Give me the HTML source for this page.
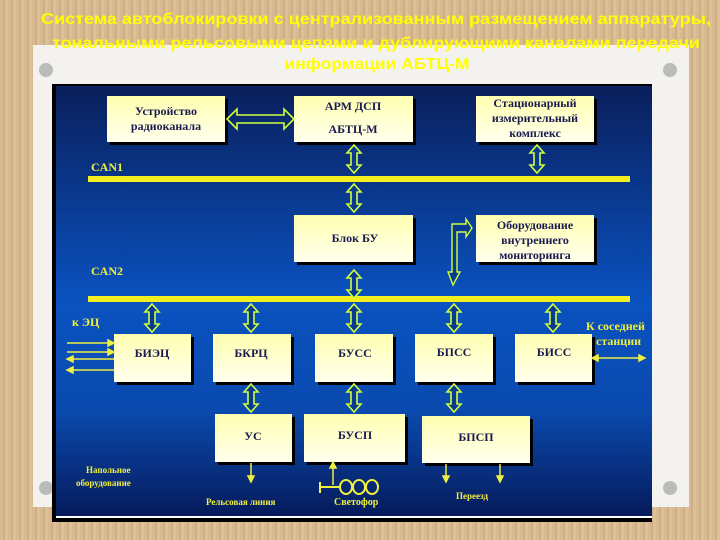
<!DOCTYPE html>
<html><head><meta charset="utf-8"><style>
html,body{margin:0;padding:0}
body{width:720px;height:540px;overflow:hidden;background:repeating-linear-gradient(90deg,#d9b98f 0 3px,#cfae84 3px 5px,#dcc09a 5px 8px);}
svg{display:block}
</style></head><body>
<svg width="720" height="540" viewBox="0 0 720 540" xmlns="http://www.w3.org/2000/svg" font-family="Liberation Serif, serif">
<defs>
<linearGradient id="bg" x1="0" y1="0" x2="0" y2="1">
<stop offset="0" stop-color="#0a1f5c"/>
<stop offset="0.5" stop-color="#0a52c0"/>
<stop offset="0.75" stop-color="#0a4aae"/>
<stop offset="1" stop-color="#061a5a"/>
</linearGradient>
<linearGradient id="bx" x1="0" y1="0" x2="0" y2="1">
<stop offset="0" stop-color="#ffffb0"/>
<stop offset="1" stop-color="#ffffee"/>
</linearGradient>
<g id="va"><path d="M0,-14 L7,-6 L3,-6 L3,6 L7,6 L0,14 L-7,6 L-3,6 L-3,-6 L-7,-6 Z" fill="#0a3a90" stroke="#d0ff40" stroke-width="1.6"/></g>
</defs>
<rect x="33" y="45" width="656" height="462" fill="#f4f2ee"/>
<circle cx="46" cy="70" r="7" fill="#bbb"/><circle cx="670" cy="70" r="7" fill="#bbb"/>
<circle cx="46" cy="488" r="7" fill="#bbb"/><circle cx="670" cy="488" r="7" fill="#bbb"/>
<rect x="52" y="84" width="600" height="438" fill="#000"/>
<rect x="56" y="86" width="596" height="432" fill="url(#bg)"/>
<rect x="56" y="516" width="596" height="2" fill="#fff"/>
<g font-family="Liberation Sans, sans-serif" font-size="16" font-weight="bold" fill="#ffff00" text-anchor="middle">
<text x="376" y="24" textLength="670" lengthAdjust="spacingAndGlyphs">Система автоблокировки с централизованным размещением аппаратуры,</text>
<text x="376" y="48" textLength="648" lengthAdjust="spacingAndGlyphs">тональными рельсовыми цепями и дублирующими каналами передачи</text>
<text x="377" y="69" textLength="185" lengthAdjust="spacingAndGlyphs">информации АБТЦ-М</text>
</g>
<g fill="#000">
<rect x="110" y="99" width="118" height="46"/><rect x="297" y="99" width="119" height="46"/><rect x="479" y="99" width="118" height="46"/>
<rect x="297" y="218" width="119" height="47"/><rect x="479" y="218" width="118" height="47"/>
<rect x="117" y="337" width="77" height="48"/><rect x="216" y="337" width="78" height="48"/><rect x="318" y="337" width="78" height="48"/><rect x="418" y="337" width="78" height="48"/><rect x="518" y="337" width="77" height="48"/>
<rect x="218" y="417" width="77" height="48"/><rect x="307" y="417" width="101" height="48"/><rect x="425" y="419" width="108" height="47"/>
</g>
<g fill="url(#bx)">
<rect x="107" y="96" width="118" height="46"/><rect x="294" y="96" width="119" height="46"/><rect x="476" y="96" width="118" height="46"/>
<rect x="294" y="215" width="119" height="47"/><rect x="476" y="215" width="118" height="47"/>
<rect x="114" y="334" width="77" height="48"/><rect x="213" y="334" width="78" height="48"/><rect x="315" y="334" width="78" height="48"/><rect x="415" y="334" width="78" height="48"/><rect x="515" y="334" width="77" height="48"/>
<rect x="215" y="414" width="77" height="48"/><rect x="304" y="414" width="101" height="48"/><rect x="422" y="416" width="108" height="47"/>
</g>
<g fill="#1a1a50" font-size="12" text-anchor="middle" font-weight="bold">
<text x="166" y="115">Устройство</text><text x="166" y="130">радиоканала</text>
<text x="353" y="110">АРМ ДСП</text><text x="353" y="133">АБТЦ-М</text>
<text x="535" y="107">Стационарный</text><text x="535" y="122">измерительный</text><text x="535" y="137">комплекс</text>
<text x="355" y="242">Блок БУ</text>
<text x="535" y="229">Оборудование</text><text x="535" y="244">внутреннего</text><text x="535" y="259">мониторинга</text>
<text x="152" y="357">БИЭЦ</text><text x="251" y="357">БКРЦ</text><text x="355" y="357">БУСС</text><text x="454" y="356">БПСС</text><text x="554" y="356">БИСС</text>
<text x="253" y="440">УС</text><text x="355" y="439">БУСП</text><text x="476" y="441">БПСП</text>
</g>
<rect x="88" y="176" width="542" height="6" fill="#f4f020"/>
<rect x="88" y="296" width="542" height="6" fill="#f4f020"/>
<g fill="#f0f040" font-size="12" font-weight="bold">
<text x="91" y="171">CAN1</text><text x="91" y="275">CAN2</text>
<text x="72" y="326">к ЭЦ</text>
<text x="586" y="330">К соседней</text><text x="596" y="345">станции</text>
<text x="86" y="473" font-size="9">Напольное</text><text x="76" y="486" font-size="9">оборудование</text>
<text x="206" y="505" font-size="9">Рельсовая линия</text>
<text x="334" y="505" font-size="10">Светофор</text>
<text x="456" y="499" font-size="9">Переезд</text>
</g>
<path d="M227,119 L237,109 L237,115 L284,115 L284,109 L294,119 L284,129 L284,123 L237,123 L237,129 Z" fill="#0a2a70" stroke="#d0ff40" stroke-width="1.6"/>
<g>
<use href="#va" transform="translate(354,159)"/>
<use href="#va" transform="translate(537,159)"/>
<use href="#va" transform="translate(354,198)"/>
<use href="#va" transform="translate(354,284)"/>
<use href="#va" transform="translate(152,318)"/>
<use href="#va" transform="translate(251,318)"/>
<use href="#va" transform="translate(354,318)"/>
<use href="#va" transform="translate(454,318)"/>
<use href="#va" transform="translate(553,318)"/>
<use href="#va" transform="translate(251,398)"/>
<use href="#va" transform="translate(354,398)"/>
<use href="#va" transform="translate(454,398)"/>
</g>
<path d="M453,285 L460,272 L457,272 L457,232 L466,232 L466,237 L472,228 L466,219 L466,224 L452,224 L452,272 L448,272 Z" fill="#0a3a90" stroke="#d0ff40" stroke-width="1.4"/>
<g stroke="#f0f040" stroke-width="1.5" fill="#f0f040">
<line x1="67" y1="343" x2="110" y2="343"/><path d="M114,343 L108,340 L108,346Z"/>
<line x1="67" y1="352" x2="110" y2="352"/><path d="M114,352 L108,349 L108,355Z"/>
<line x1="71" y1="359" x2="114" y2="359"/><path d="M67,359 L73,356 L73,362Z"/>
<line x1="71" y1="370" x2="114" y2="370"/><path d="M67,370 L73,367 L73,373Z"/>
<line x1="596" y1="358" x2="640" y2="358"/><path d="M592,358 L598,355 L598,361Z"/><path d="M645,358 L639,355 L639,361Z"/>
<line x1="251" y1="463" x2="251" y2="478"/><path d="M251,482 L248,476 L254,476Z"/>
<line x1="446" y1="464" x2="446" y2="478"/><path d="M446,482 L443,476 L449,476Z"/>
<line x1="500" y1="464" x2="500" y2="478"/><path d="M500,482 L497,476 L503,476Z"/>
<line x1="333" y1="466" x2="333" y2="485"/><path d="M333,462 L330,468 L336,468Z"/>
<line x1="320" y1="487" x2="340" y2="487" stroke-width="2"/><line x1="320" y1="482" x2="320" y2="493" stroke-width="2"/>
</g>
<g fill="none" stroke="#f0f040" stroke-width="2">
<ellipse cx="346" cy="487" rx="6" ry="7"/><ellipse cx="359" cy="487" rx="6" ry="7"/><ellipse cx="372" cy="487" rx="6" ry="7"/>
</g>
</svg>
</body></html>
